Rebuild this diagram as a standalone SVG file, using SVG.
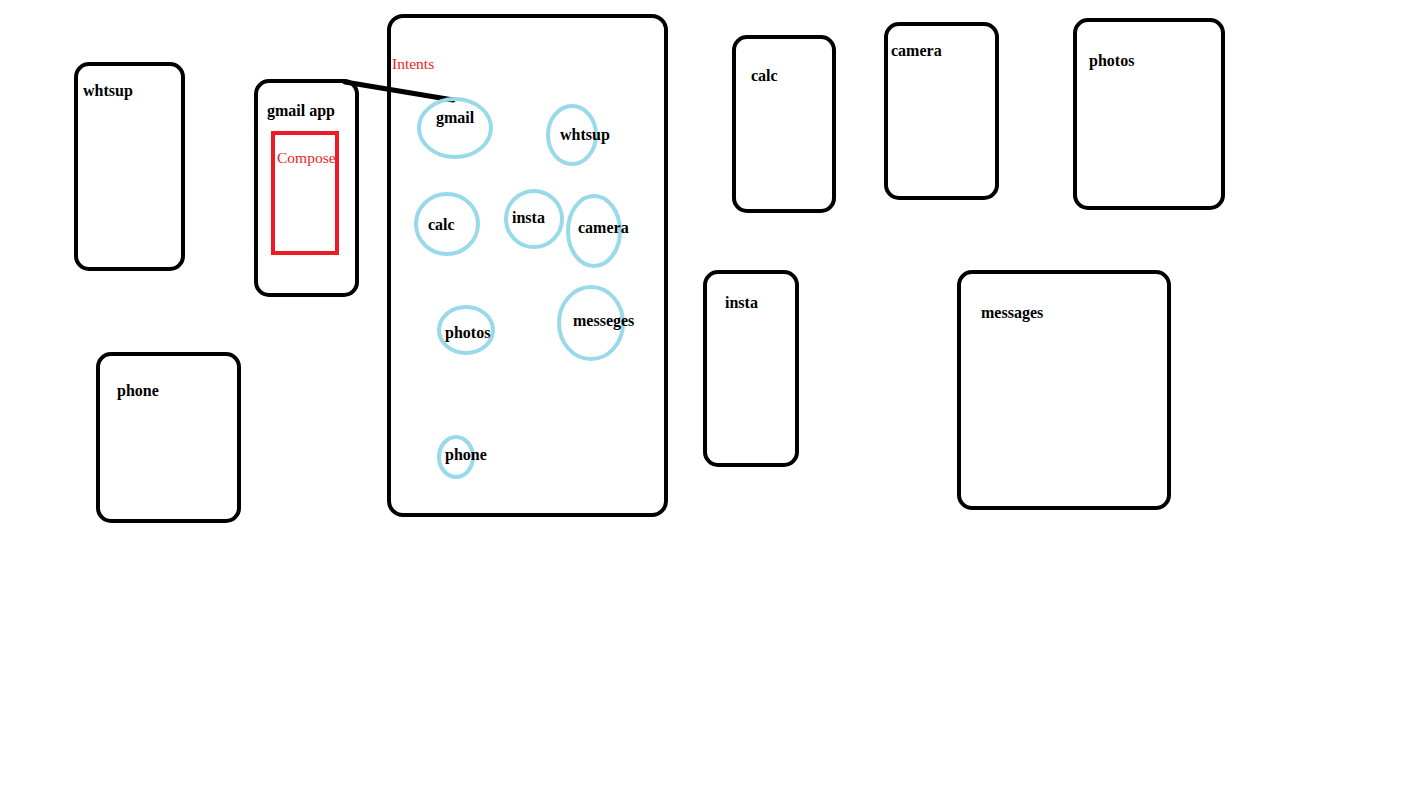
<svg xmlns="http://www.w3.org/2000/svg" width="1402" height="804" viewBox="0 0 1402 804">
<style>
.box{fill:none;stroke:#000;stroke-width:4}
.ell{fill:none;stroke:#99d9ea;stroke-width:4}
text{font-family:"Liberation Serif",serif;font-size:16px;font-weight:bold;fill:#000}
.red{fill:#ed1c24;font-weight:normal;font-size:15.5px}
</style>
<rect width="1402" height="804" fill="#fff"/>
<g id="connectors">
<line x1="345" y1="82" x2="453" y2="100" stroke="#000" stroke-width="5" stroke-linecap="round"/>
</g>
<g id="intents"><rect class="box" x="389" y="16" width="277" height="499" rx="14"/><text class="red" x="392" y="69">Intents</text></g>
<g id="whtsup-app"><rect class="box" x="76" y="64" width="107" height="205" rx="13"/><text x="83" y="96">whtsup</text></g>
<g id="gmail-app"><rect class="box" x="256" y="81" width="101" height="214" rx="13"/><text x="267" y="116">gmail app</text></g>
<g id="compose"><rect x="273" y="133" width="64" height="120" fill="none" stroke="#ed1c24" stroke-width="4"/><text class="red" x="277" y="163">Compose</text></g>
<g id="phone-app"><rect class="box" x="98" y="354" width="141" height="167" rx="13"/><text x="117" y="396">phone</text></g>
<g id="calc-app"><rect class="box" x="734" y="37" width="100" height="174" rx="13"/><text x="751" y="81">calc</text></g>
<g id="camera-app"><rect class="box" x="886" y="24" width="111" height="174" rx="13"/><text x="891" y="56">camera</text></g>
<g id="photos-app"><rect class="box" x="1075" y="20" width="148" height="188" rx="13"/><text x="1089" y="66">photos</text></g>
<g id="insta-app"><rect class="box" x="705" y="272" width="92" height="193" rx="13"/><text x="725" y="308">insta</text></g>
<g id="messages-app"><rect class="box" x="959" y="272" width="210" height="236" rx="13"/><text x="981" y="318">messages</text></g>
<g id="i-gmail"><ellipse class="ell" cx="455" cy="128" rx="36" ry="29"/><text x="436" y="123">gmail</text></g>
<g id="i-whtsup"><ellipse class="ell" cx="572" cy="135" rx="24" ry="29"/><text x="560" y="140">whtsup</text></g>
<g id="i-calc"><ellipse class="ell" cx="447" cy="224" rx="31" ry="30"/><text x="428" y="230">calc</text></g>
<g id="i-insta"><ellipse class="ell" cx="534" cy="219" rx="28" ry="28"/><text x="512" y="223">insta</text></g>
<g id="i-camera"><ellipse class="ell" cx="594" cy="231" rx="26" ry="35"/><text x="578" y="233">camera</text></g>
<g id="i-photos"><ellipse class="ell" cx="466" cy="330" rx="27" ry="23"/><text x="445" y="338">photos</text></g>
<g id="i-messeges"><ellipse class="ell" cx="591" cy="323" rx="32" ry="36"/><text x="573" y="326">messeges</text></g>
<g id="i-phone"><ellipse class="ell" cx="456" cy="457" rx="17" ry="20"/><text x="445" y="460">phone</text></g>
</svg>
